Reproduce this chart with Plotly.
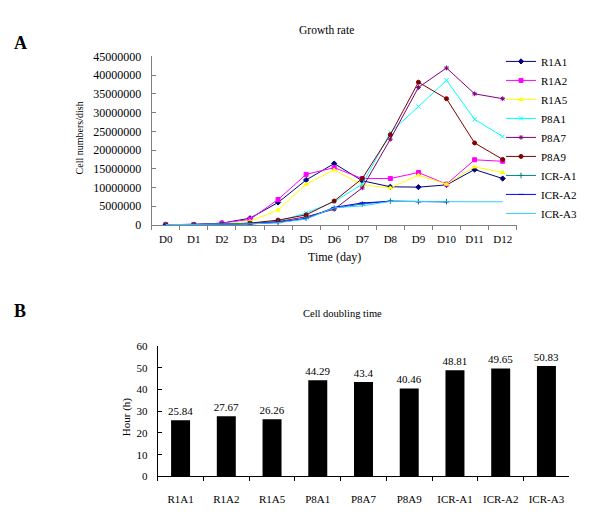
import plotly.graph_objects as go

# ---------------- data ----------------
days = ["D0", "D1", "D2", "D3", "D4", "D5", "D6", "D7", "D8", "D9", "D10", "D11", "D12"]

R1A1 = [100000, 100000, 500000, 1800000, 6000000, 12000000, 16400000, 11800000, 10200000, 10100000, 10700000, 14800000, 12400000]
R1A2 = [100000, 100000, 500000, 1500000, 6800000, 13500000, 15300000, 12400000, 12400000, 14000000, 10900000, 17400000, 17000000]
R1A5 = [0, 0, 300000, 1000000, 4000000, 10900000, 14700000, 10700000, 9900000, 13300000, 10900000, 15500000, 14000000]
P8A1 = [100000, 100000, 200000, 500000, 1000000, 3200000, 6200000, 10900000, 24700000, 31600000, 38600000, 28200000, 23600000]
P8A7 = [100000, 100000, 200000, 400000, 900000, 2200000, 4200000, 9900000, 22900000, 36700000, 41900000, 35000000, 33700000]
P8A9 = [100000, 100000, 200000, 500000, 1300000, 2700000, 6400000, 12400000, 24100000, 38100000, 33700000, 21900000, 17500000]
ICR_A1 = [100000, 100000, 150000, 300000, 700000, 1800000, 4500000, 5600000, 6400000, 6200000, 6200000, None, None]
ICR_A2 = [100000, 100000, 150000, 300000, 700000, 1700000, 4700000, 5900000, 6300000, 6200000, 6200000, None, None]
ICR_A3 = [100000, 100000, 150000, 300000, 600000, 1600000, 4600000, 5100000, 6300000, 6200000, 6200000, 6200000, 6200000]

growth_series = [
    ("R1A1", R1A1), ("R1A2", R1A2), ("R1A5", R1A5),
    ("P8A1", P8A1), ("P8A7", P8A7), ("P8A9", P8A9),
    ("ICR-A1", ICR_A1), ("ICR-A2", ICR_A2), ("ICR-A3", ICR_A3),
]
y_ticks_growth = [0, 5000000, 10000000, 15000000, 20000000, 25000000, 30000000, 35000000, 40000000, 45000000]

cell_lines = ["R1A1", "R1A2", "R1A5", "P8A1", "P8A7", "P8A9", "ICR-A1", "ICR-A2", "ICR-A3"]
doubling_time = [25.84, 27.67, 26.26, 44.29, 43.4, 40.46, 48.81, 49.65, 50.83]
doubling_labels = ["25.84", "27.67", "26.26", "44.29", "43.4", "40.46", "48.81", "49.65", "50.83"]

# ---------------- styles ----------------
colors = ["#000080", "#FF00FF", "#FFFF00", "#00FFFF", "#800080", "#800000", "#008080", "#0000FF", "#33CCFF"]
symbols = ["diamond", "square", "triangle-up", "x-thin-open", "asterisk-open", "circle",
           "cross-thin-open", "line-ew-open", None]

SERIF = "Times New Roman, Liberation Serif, serif"
W, H = 600, 523

def px(x):
    return x / W

def py(y):
    return (H - y) / H

fig = go.Figure()

for (name, vals), col, sym in zip(growth_series, colors, symbols):
    if sym is None:
        fig.add_trace(go.Scatter(x=days, y=vals, name=name, mode="lines",
                                 line=dict(color=col, width=1), xaxis="x", yaxis="y"))
    else:
        fig.add_trace(go.Scatter(x=days, y=vals, name=name, mode="lines+markers",
                                 line=dict(color=col, width=1),
                                 marker=dict(symbol=sym, size=4, color=col,
                                             line=dict(color=col, width=1)),
                                 xaxis="x", yaxis="y"))

fig.add_trace(go.Bar(x=cell_lines, y=doubling_time, text=doubling_labels,
                     textposition="outside", cliponaxis=False, constraintext="none",
                     textfont=dict(family=SERIF, size=11, color="black"),
                     outsidetextfont=dict(family=SERIF, size=11, color="black"),
                     marker=dict(color="black", line=dict(width=0)),
                     showlegend=False, xaxis="x2", yaxis="y2"))

tickfont = dict(family=SERIF, size=11, color="black")


def ann(text, x, y, size, angle=0):
    return dict(text=text, x=px(x), y=py(y), xref="paper", yref="paper",
                xanchor="center", yanchor="middle", textangle=angle,
                showarrow=False, font=dict(family=SERIF, size=size, color="black"))


fig.update_layout(
    width=W, height=H,
    margin=dict(l=0, r=0, t=0, b=0),
    paper_bgcolor="white", plot_bgcolor="white",
    bargap=0.585,
    xaxis=dict(domain=[px(151.7), px(516.7)], anchor="y", type="category",
               range=[-0.5, 12.5], showline=True, linecolor="#808080", linewidth=1,
               ticks="outside", ticklen=4, tickcolor="#808080", tickson="boundaries",
               tickangle=0, showgrid=False, zeroline=False, tickfont=tickfont,
               ticklabelstandoff=4),
    yaxis=dict(domain=[py(224), py(50.7)], anchor="x", range=[0, 45000000],
               tickvals=y_ticks_growth, ticktext=[str(v) for v in y_ticks_growth],
               showline=True, linecolor="#808080", linewidth=1,
               ticks="inside", ticklen=4, tickcolor="#808080",
               showgrid=False, zeroline=False,
               tickfont=dict(family=SERIF, size=12, color="black"), ticklabelstandoff=7),
    xaxis2=dict(domain=[px(157.7), px(569.3)], anchor="y2", type="category",
                range=[-0.5, 8.5], showline=True, linecolor="black", linewidth=1,
                ticks="outside", ticklen=4, tickcolor="black", tickson="boundaries",
                tickangle=0, showgrid=False, zeroline=False, tickfont=tickfont,
                ticklabelstandoff=12),
    yaxis2=dict(domain=[py(482.3), py(348.3)], anchor="x2", range=[0, 60], dtick=10,
                showline=True, linecolor="black", linewidth=1,
                ticks="inside", ticklen=4, tickcolor="black",
                showgrid=False, zeroline=False, tickfont=tickfont, ticklabelstandoff=7),
    legend=dict(x=px(501), y=py(134), xanchor="left", yanchor="middle",
                font=dict(family=SERIF, size=11, color="black"),
                bgcolor="rgba(0,0,0,0)", itemwidth=30, tracegroupgap=0),
    annotations=[
        ann("<b>A</b>", 20.5, 36.5, 18),
        ann("Growth rate", 326, 24, 11.5),
        ann("Cell numbers/dish", 79, 134, 10, -90),
        ann("Time (day)", 334, 256.7, 12),
        ann("<b>B</b>", 20, 312, 18),
        ann("Cell doubling time", 342.5, 315, 10.5),
        ann("Hour (h)", 126.5, 421, 11, -90),
    ],
)

fig.write_html("out.html",
               config={"displayModeBar": False},
               post_script="document.body.style.margin='0';document.body.style.overflow='hidden';")
